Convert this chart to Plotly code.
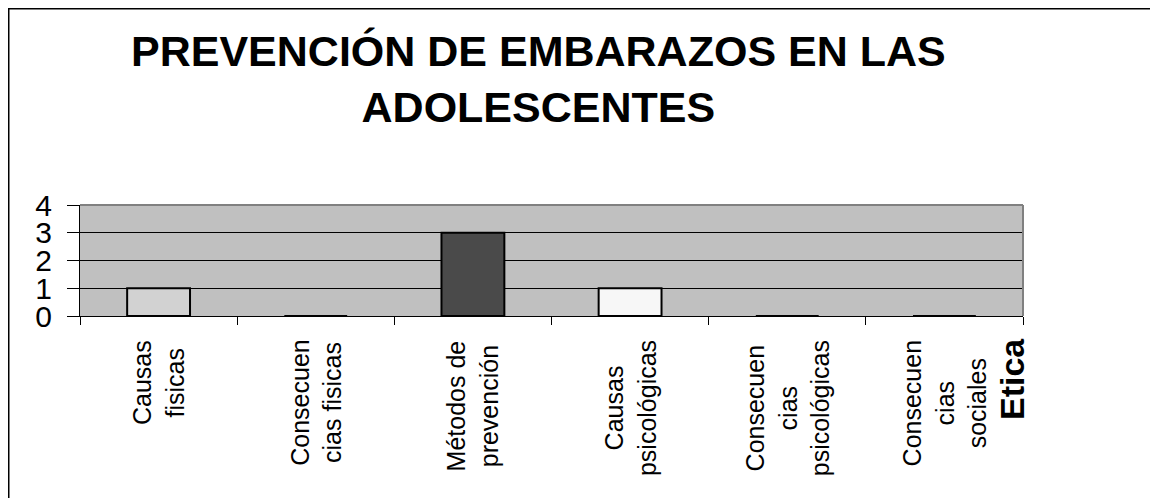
import plotly.graph_objects as go

categories = [
    "Causas<br>fisicas",
    "Consecuen<br>cias fisicas",
    "Métodos de<br>prevención",
    "Causas<br>psicológicas",
    "Consecuen<br>cias<br>psicológicas",
    "Consecuen<br>cias<br>sociales",
]
values = [1, 0, 3, 1, 0, 0]
bar_colors = ["#d2d2d2", "#bfbfbf", "#4a4a4a", "#f7f7f7", "#bfbfbf", "#bfbfbf"]
y_ticks = [0, 1, 2, 3, 4]
title_text = "PREVENCIÓN DE EMBARAZOS EN LAS<br>ADOLESCENTES"
extra_label = "Etica"

FONT = "Liberation Sans, Arial, sans-serif"

# plot area in figure pixels (page sits 8px in from the window edge)
L, T, W, H = 72, 197, 943, 111


def px_x(fx):
    return (fx - L) / W


def px_y(fy):
    return (T + H - fy) / H


fig = go.Figure()

fig.add_trace(
    go.Bar(
        x=categories,
        y=values,
        width=0.4,
        marker=dict(
            color=bar_colors,
            line=dict(color="black", width=2)
        ),
        hoverinfo="skip"
    )
)

# category labels drawn as rotated annotations so the lines can be centred
for cat in categories:
    fig.add_annotation(
        x=cat,
        y=0,
        xref="x",
        yref="paper",
        xanchor="center",
        yanchor="top",
        yshift=-22,
        text=cat,
        textangle=-90,
        align="center",
        showarrow=False,
        font=dict(family=FONT, size=25, color="black")
    )

# clipped extra label at the right edge
fig.add_annotation(
    x=px_x(1004),
    y=0,
    xref="paper",
    yref="paper",
    xanchor="center",
    yanchor="top",
    yshift=-20,
    text="<b>" + extra_label + "</b>",
    textangle=-90,
    showarrow=False,
    font=dict(family=FONT, size=34, color="black")
)

fig.add_annotation(
    x=px_x(530),
    y=px_y(17),
    xref="paper",
    yref="paper",
    xanchor="center",
    yanchor="top",
    text="<b>" + title_text + "</b>",
    align="center",
    showarrow=False,
    font=dict(family=FONT, size=43, color="black")
)

# outer chart frame
fig.add_shape(
    type="rect",
    xref="paper",
    yref="paper",
    x0=px_x(0.5),
    x1=1.3,
    y0=-2.0,
    y1=px_y(0.5),
    line=dict(color="black", width=2)
)

# grey plot-area border on top and right
fig.add_shape(type="line", xref="paper", yref="paper",
              x0=0, x1=1, y0=1, y1=1,
              line=dict(color="#808080", width=2))
fig.add_shape(type="line", xref="paper", yref="paper",
              x0=1, x1=1, y0=0, y1=1,
              line=dict(color="#808080", width=2))

fig.update_layout(
    width=1158,
    height=498,
    margin=dict(l=L, r=1158 - L - W, t=T, b=498 - T - H),
    paper_bgcolor="white",
    plot_bgcolor="#c0c0c0",
    showlegend=False,
    font=dict(family=FONT, color="black")
)

fig.update_xaxes(
    showticklabels=False,
    showline=True,
    linecolor="black",
    linewidth=1,
    ticks="outside",
    tickson="boundaries",
    ticklen=8,
    tickcolor="black",
    showgrid=False
)

fig.update_yaxes(
    range=[0, 4],
    tickvals=y_ticks,
    showline=True,
    linecolor="black",
    linewidth=1,
    ticks="outside",
    ticklen=12,
    tickcolor="black",
    showgrid=True,
    gridcolor="black",
    gridwidth=1,
    zeroline=False,
    ticklabelstandoff=9,
    tickfont=dict(family=FONT, size=30, color="black")
)

fig.write_html("out.html")
